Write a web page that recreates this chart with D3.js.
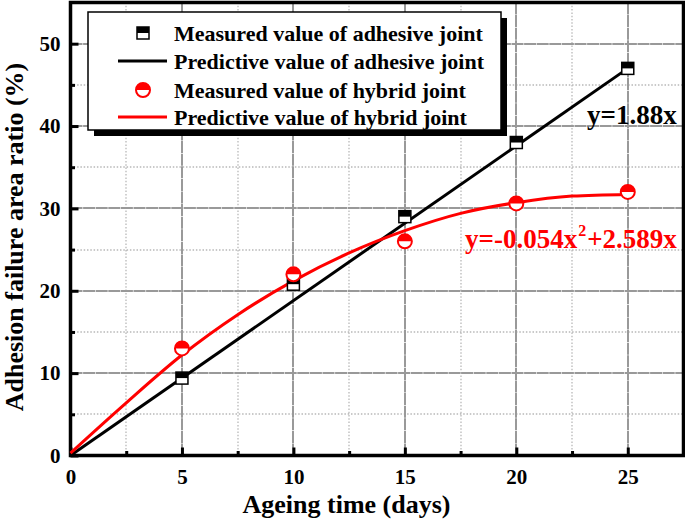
<!DOCTYPE html>
<html><head><meta charset="utf-8">
<script src="https://cdn.jsdelivr.net/npm/d3@7"></script>
<style>
html,body{margin:0;padding:0;background:#fff;}
svg{display:block;font-family:"Liberation Serif","Times New Roman",serif;font-weight:bold;}
</style></head>
<body><svg id="chart" width="685" height="523"></svg>
<script>
// ---- data ----
const measuredDays = [5, 10, 15, 20, 25];
const adhesiveMeasured = [9.4, 20.8, 29.0, 38.0, 47.0];
const hybridMeasured = [13.0, 22.0, 26.0, 30.6, 32.0];
const adhesivePredDays = [0, 25];
const adhesivePredicted = [0, 47.0];
const hybridPredDays = [0, 2.5, 5, 7.5, 10, 12.5, 15, 17.5, 20, 22.5, 25];
const hybridPredicted = [0.3, 6.4, 12.2, 17.1, 21.2, 24.6, 27.3, 29.4, 30.7, 31.5, 31.7];
const xTicks = [0, 5, 10, 15, 20, 25];
const yTicks = [0, 10, 20, 30, 40, 50];
const xMinor = [2.5, 7.5, 12.5, 17.5, 22.5];
const yMinor = [5, 15, 25, 35, 45];
const legendLabels = ["Measured value of adhesive joint","Predictive value of adhesive joint","Measured value of hybrid joint","Predictive value of hybrid joint"];
const xTitle = "Ageing time (days)";
const yTitle = "Adhesion failure area ratio (%)";

const svg = d3.select("#chart");
const L = 70.5, R = 683.5, T = 2.5, B = 455.5;
const xs = d3.scaleLinear().domain([0, 27.5]).range([L, R]);
const ys = d3.scaleLinear().domain([0, 55]).range([B, T]);
const RED = "#ff0000";

// grid
function gridPath(xv, yv) {
  let d = "";
  xv.forEach(v => { const px = Math.round(xs(v)); d += `M${px},${T}V${B}`; });
  yv.forEach(v => { const py = Math.round(ys(v)); d += `M${L},${py}H${R}`; });
  return d;
}
svg.append("path").attr("d", gridPath(xMinor, yMinor))
  .attr("fill", "none").attr("stroke", "#b8b8b8").attr("stroke-width", 1.3).attr("stroke-dasharray", "1.5,1.8");
svg.append("path").attr("d", gridPath(xTicks.slice(1), yTicks.slice(1)))
  .attr("fill", "none").attr("stroke", "#999999").attr("stroke-width", 2).attr("stroke-dasharray", "12,0.6");

// axes
const xAxis = d3.axisBottom(xs).tickValues(xTicks).tickSize(-8).tickPadding(14).tickFormat(d3.format("d"));
const yAxis = d3.axisLeft(ys).tickValues(yTicks).tickSize(-8).tickPadding(10).tickFormat(d3.format("d"));
const xa = svg.append("g").attr("transform", `translate(0,${B})`).call(xAxis);
const ya = svg.append("g").attr("transform", `translate(${L},0)`).call(yAxis);
[xa, ya].forEach(a => {
  a.select(".domain").remove();
  a.selectAll("line").attr("stroke", "#000").attr("stroke-width", 3);
  a.selectAll("text").attr("font-family", "Liberation Serif").attr("font-weight", "bold").attr("font-size", 21).attr("fill", "#000");
});
const xm = d3.axisBottom(xs).tickValues(xMinor).tickSize(-4.5).tickFormat(() => "");
const ym = d3.axisLeft(ys).tickValues(yMinor).tickSize(-4.5).tickFormat(() => "");
[svg.append("g").attr("transform", `translate(0,${B})`).call(xm), svg.append("g").attr("transform", `translate(${L},0)`).call(ym)].forEach(a => {
  a.select(".domain").remove();
  a.selectAll("line").attr("stroke", "#000").attr("stroke-width", 3);
});
// frame
svg.append("rect").attr("x", L).attr("y", T).attr("width", R - L).attr("height", B - T)
  .attr("fill", "none").attr("stroke", "#000").attr("stroke-width", 3.5);

// axis titles
svg.append("text").attr("x", 346.5).attr("y", 513).attr("text-anchor", "middle")
  .attr("font-size", 26).text(xTitle);
svg.append("text").attr("transform", `translate(23,237) rotate(-90)`).attr("text-anchor", "middle")
  .attr("font-size", 26).text(yTitle);

// lines
const lineGen = d3.line().x(d => xs(d[0])).y(d => ys(d[1]));
svg.append("path").datum(adhesivePredDays.map((d, i) => [d, adhesivePredicted[i]]))
  .attr("d", lineGen).attr("fill", "none").attr("stroke", "#000").attr("stroke-width", 3);
svg.append("path").datum(hybridPredDays.map((d, i) => [d, hybridPredicted[i]]))
  .attr("d", d3.line().x(d => xs(d[0])).y(d => ys(d[1])).curve(d3.curveMonotoneX))
  .attr("fill", "none").attr("stroke", RED).attr("stroke-width", 3);

// markers
function squareMarker(sel, cx, cy, s) {
  const gg = sel.append("g").attr("transform", `translate(${cx},${cy})`);
  gg.append("rect").attr("x", -s/2).attr("y", -s/2).attr("width", s).attr("height", s).attr("fill", "#fff").attr("stroke", "#000").attr("stroke-width", 1.5);
  gg.append("rect").attr("x", -s/2).attr("y", -s/2).attr("width", s).attr("height", s/2).attr("fill", "#000");
}
function circleMarker(sel, cx, cy, r) {
  const gg = sel.append("g").attr("transform", `translate(${cx},${cy})`);
  gg.append("circle").attr("r", r).attr("fill", "#fff").attr("stroke", RED).attr("stroke-width", 2);
  gg.append("path").attr("d", `M${-r},0A${r},${r} 0 0 1 ${r},0Z`).attr("fill", RED);
}
const mg = svg.append("g");
measuredDays.forEach((d, i) => squareMarker(mg, xs(d), ys(adhesiveMeasured[i]), 12));
measuredDays.forEach((d, i) => circleMarker(mg, xs(d), ys(hybridMeasured[i]), 7));

// equations
svg.append("text").attr("x", 587).attr("y", 124).attr("font-size", 27).attr("fill", "#000").text("y=1.88x");
const eq = svg.append("text").attr("x", 465).attr("y", 248).attr("font-size", 27).attr("fill", RED);
eq.append("tspan").text("y=-0.054x");
eq.append("tspan").attr("dx", 1).attr("dy", -12).attr("font-size", 16).text("2");
eq.append("tspan").attr("dx", 1).attr("dy", 12).text("+2.589x");

// legend
const lg = svg.append("g");
lg.append("rect").attr("x", 94).attr("y", 18).attr("width", 413).attr("height", 118).attr("fill", "#000");
lg.append("rect").attr("x", 88).attr("y", 12).attr("width", 413).attr("height", 118).attr("fill", "#fff").attr("stroke", "#000").attr("stroke-width", 1.5);
const rows = [33, 61, 90, 117];
squareMarker(lg, 143, rows[0], 12);
lg.append("line").attr("x1", 118).attr("x2", 167).attr("y1", rows[1]).attr("y2", rows[1]).attr("stroke", "#000").attr("stroke-width", 3);
circleMarker(lg, 143, rows[2], 7);
lg.append("line").attr("x1", 118).attr("x2", 167).attr("y1", rows[3]).attr("y2", rows[3]).attr("stroke", RED).attr("stroke-width", 3);
lg.selectAll("text.lt").data(legendLabels).join("text").attr("class", "lt").attr("x", 174).attr("y", (d, i) => rows[i] + 7.5)
  .attr("font-size", 22).attr("fill", "#000").text(d => d);
</script></body></html>
